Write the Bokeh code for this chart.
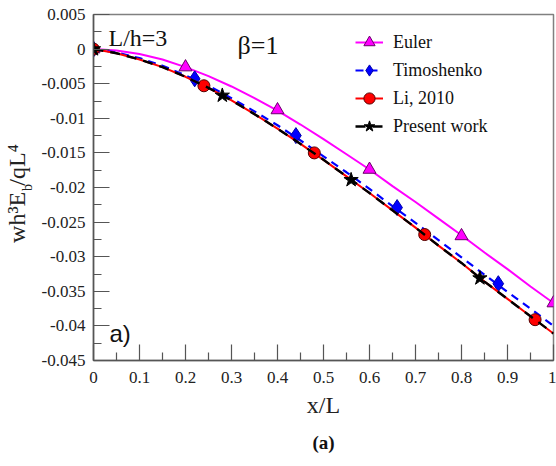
from bokeh.plotting import figure
from bokeh.models import Range1d, Label, Legend, LegendItem, FixedTicker, Title, LinearAxis
from bokeh.embed import file_html
from bokeh.resources import INLINE

# ---- data ----
x_curve = [0.0, 0.05, 0.1, 0.15, 0.2, 0.25, 0.3, 0.35, 0.4, 0.45, 0.5,
           0.55, 0.6, 0.65, 0.7, 0.75, 0.8, 0.85, 0.9, 0.95, 1.0]
euler_curve = [0.0, -0.0002, -0.0007, -0.0015, -0.0026, -0.0039, -0.0054, -0.0071, -0.0089, -0.0109, -0.0130,
               -0.0152, -0.0174, -0.0198, -0.0221, -0.0245, -0.0269, -0.0294, -0.0318, -0.0343, -0.0367]
timo_curve = [0.0, -0.0005, -0.0013, -0.0024, -0.0038, -0.0053, -0.0071, -0.0090, -0.0110, -0.0132, -0.0155,
              -0.0178, -0.0202, -0.0227, -0.0251, -0.0276, -0.0301, -0.0326, -0.0351, -0.0375, -0.0400]
li_curve = [0.0, -0.0006, -0.0015, -0.0026, -0.0040, -0.0056, -0.0074, -0.0094, -0.0115, -0.0137, -0.0160,
            -0.0184, -0.0208, -0.0233, -0.0258, -0.0284, -0.0309, -0.0336, -0.0361, -0.0386, -0.0411]
present_curve = [0.0, -0.0006, -0.0015, -0.0026, -0.0040, -0.0056, -0.0074, -0.0094, -0.0115, -0.0137, -0.0160,
                 -0.0184, -0.0208, -0.0233, -0.0258, -0.0284, -0.0309, -0.0336, -0.0361, -0.0386, -0.0411]

euler_mx = [0.0, 0.2, 0.4, 0.6, 0.8, 1.0]
euler_my = [0.0, -0.0026, -0.0088, -0.0174, -0.0270, -0.0367]
timo_mx = [0.0, 0.22, 0.44, 0.66, 0.88]
timo_my = [0.0, -0.0043, -0.0125, -0.0229, -0.0339]
li_mx = [0.0, 0.24, 0.48, 0.72, 0.96]
li_my = [0.0, -0.0053, -0.0150, -0.0268, -0.0391]
pres_mx = [0.0, 0.28, 0.56, 0.84]
pres_my = [0.0, -0.0067, -0.0189, -0.0331]

x_ticks = [0.0, 0.1, 0.2, 0.3, 0.4, 0.5, 0.6, 0.7, 0.8, 0.9, 1.0]
x_tick_labels = ["0", "0.1", "0.2", "0.3", "0.4", "0.5", "0.6", "0.7", "0.8", "0.9", "1"]
y_ticks = [0.005, 0.0, -0.005, -0.01, -0.015, -0.02, -0.025, -0.03, -0.035, -0.04, -0.045]
y_tick_labels = ["0.005", "0", "-0.005", "-0.01", "-0.015", "-0.02", "-0.025", "-0.03", "-0.035", "-0.04", "-0.045"]

SERIF = "Liberation Serif"
AX = "#555555"
NB = "\u00a0"

p = figure(width=556, height=466, output_backend="svg", toolbar_location=None,
           x_range=Range1d(0, 1), y_range=Range1d(-0.045, 0.005),
           min_border_left=93, min_border_right=3, min_border_top=14, min_border_bottom=106)
p.grid.visible = False
p.outline_line_color = "#808080"
p.outline_line_width = 1.5
p.background_fill_color = "white"
p.border_fill_color = "white"

def mids(t):
    s = sorted(t)
    return [(a + b) / 2 for a, b in zip(s[:-1], s[1:])]

p.xaxis.ticker = FixedTicker(ticks=x_ticks, minor_ticks=mids(x_ticks))
p.yaxis.ticker = FixedTicker(ticks=y_ticks, minor_ticks=mids(y_ticks))
p.xaxis.major_label_overrides = {t: l for t, l in zip(x_ticks, x_tick_labels)}
p.yaxis.major_label_overrides = {t: l for t, l in zip(y_ticks, y_tick_labels)}

for ax in (p.xaxis, p.yaxis):
    ax.axis_line_color = AX
    ax.axis_line_width = 1.5
    ax.major_tick_line_color = AX
    ax.minor_tick_line_color = AX
    ax.major_tick_line_width = 1.2
    ax.minor_tick_line_width = 1.2
    ax.major_tick_in = 16
    ax.major_tick_out = 0
    ax.minor_tick_in = 8
    ax.minor_tick_out = 0
    ax.major_label_text_font = SERIF
    ax.major_label_text_font_size = "17px"
    ax.major_label_text_color = "#222222"
    ax.axis_label_text_font = SERIF
    ax.axis_label_text_font_style = "normal"
    ax.axis_label_text_color = "#222222"
p.xaxis.major_label_standoff = 11
p.yaxis.major_label_standoff = 8
p.xaxis.axis_label = "x/L"
p.xaxis.axis_label_text_font_size = "24px"
p.xaxis.axis_label_standoff = 6

# y-axis label wh³E_b/qL⁴ : subscript "b" is the inner axis label,
# the main text sits on an outer, tick-less axis
p.yaxis.axis_label = "b"
p.yaxis.axis_label_text_font_size = "14px"
p.yaxis.axis_label_standoff = 4

outer = LinearAxis(ticker=FixedTicker(ticks=[]), axis_line_color=None,
                   major_tick_in=0, major_tick_out=0, minor_tick_in=0, minor_tick_out=0,
                   major_label_text_font_size="1px",
                   axis_label="wh³E" + NB + "/qL⁴" + NB + NB,
                   axis_label_text_font=SERIF, axis_label_text_font_size="24px",
                   axis_label_text_font_style="normal", axis_label_text_color="#222222")
try:
    outer.axis_label_standoff = -13
except Exception:
    outer.axis_label_standoff = 0
p.add_layout(outer, "left")

# ---- series ----
r_eu_l = p.line(x_curve, euler_curve, line_color="#FF00FF", line_width=2)
r_eu_m = p.scatter(euler_mx, euler_my, marker="triangle", size=13, fill_color="#FF00FF",
                   line_color="#6a006a", line_width=1)
r_ti_l = p.line(x_curve, timo_curve, line_color="#0000FF", line_width=2.2, line_dash="8 6")
r_ti_m = p.scatter(timo_mx, timo_my, marker="diamond", size=16, fill_color="#0000FF",
                   line_color="#0000aa", line_width=1)
r_li_l = p.line(x_curve, li_curve, line_color="#FF0000", line_width=2)
r_li_m = p.scatter(li_mx, li_my, marker="circle", size=12, fill_color="#FF0000",
                   line_color="#550000", line_width=1)
r_pr_l = p.line(x_curve, present_curve, line_color="black", line_width=2.4, line_dash="10 7")
r_pr_m = p.scatter(pres_mx, pres_my, marker="star", size=15, fill_color="black",
                   line_color="black", line_width=1)

legend = Legend(items=[
    LegendItem(label="Euler", renderers=[r_eu_l, r_eu_m]),
    LegendItem(label="Timoshenko", renderers=[r_ti_l, r_ti_m]),
    LegendItem(label="Li, 2010", renderers=[r_li_l, r_li_m]),
    LegendItem(label="Present work", renderers=[r_pr_l, r_pr_m]),
], location=(262, 220))
legend.padding = 0
legend.margin = 0
legend.spacing = 0
legend.glyph_width = 28
legend.glyph_height = 28
legend.label_height = 28
legend.label_standoff = 10
legend.label_text_font = SERIF
legend.label_text_font_size = "18px"
legend.label_text_color = "#111111"
legend.border_line_alpha = 0
legend.background_fill_alpha = 0
p.add_layout(legend, "center")

# ---- text annotations inside the frame (screen units relative to the frame) ----
p.add_layout(Label(x=15, y=310, x_units="screen", y_units="screen", text="L/h=3",
                   text_font=SERIF, text_font_size="24px", text_color="#111111"))
p.add_layout(Label(x=144, y=301, x_units="screen", y_units="screen", text="β=1",
                   text_font=SERIF, text_font_size="26px", text_color="#111111"))
p.add_layout(Label(x=16, y=14, x_units="screen", y_units="screen", text="a)",
                   text_font="Liberation Sans", text_font_size="24px", text_color="#111111"))

# caption below the axis
p.add_layout(Title(text="(a)", align="center", text_font=SERIF, text_font_size="19px",
                   text_font_style="bold", text_color="#111111", standoff=18), "below")

open("out.html", "w").write(file_html(p, INLINE))
